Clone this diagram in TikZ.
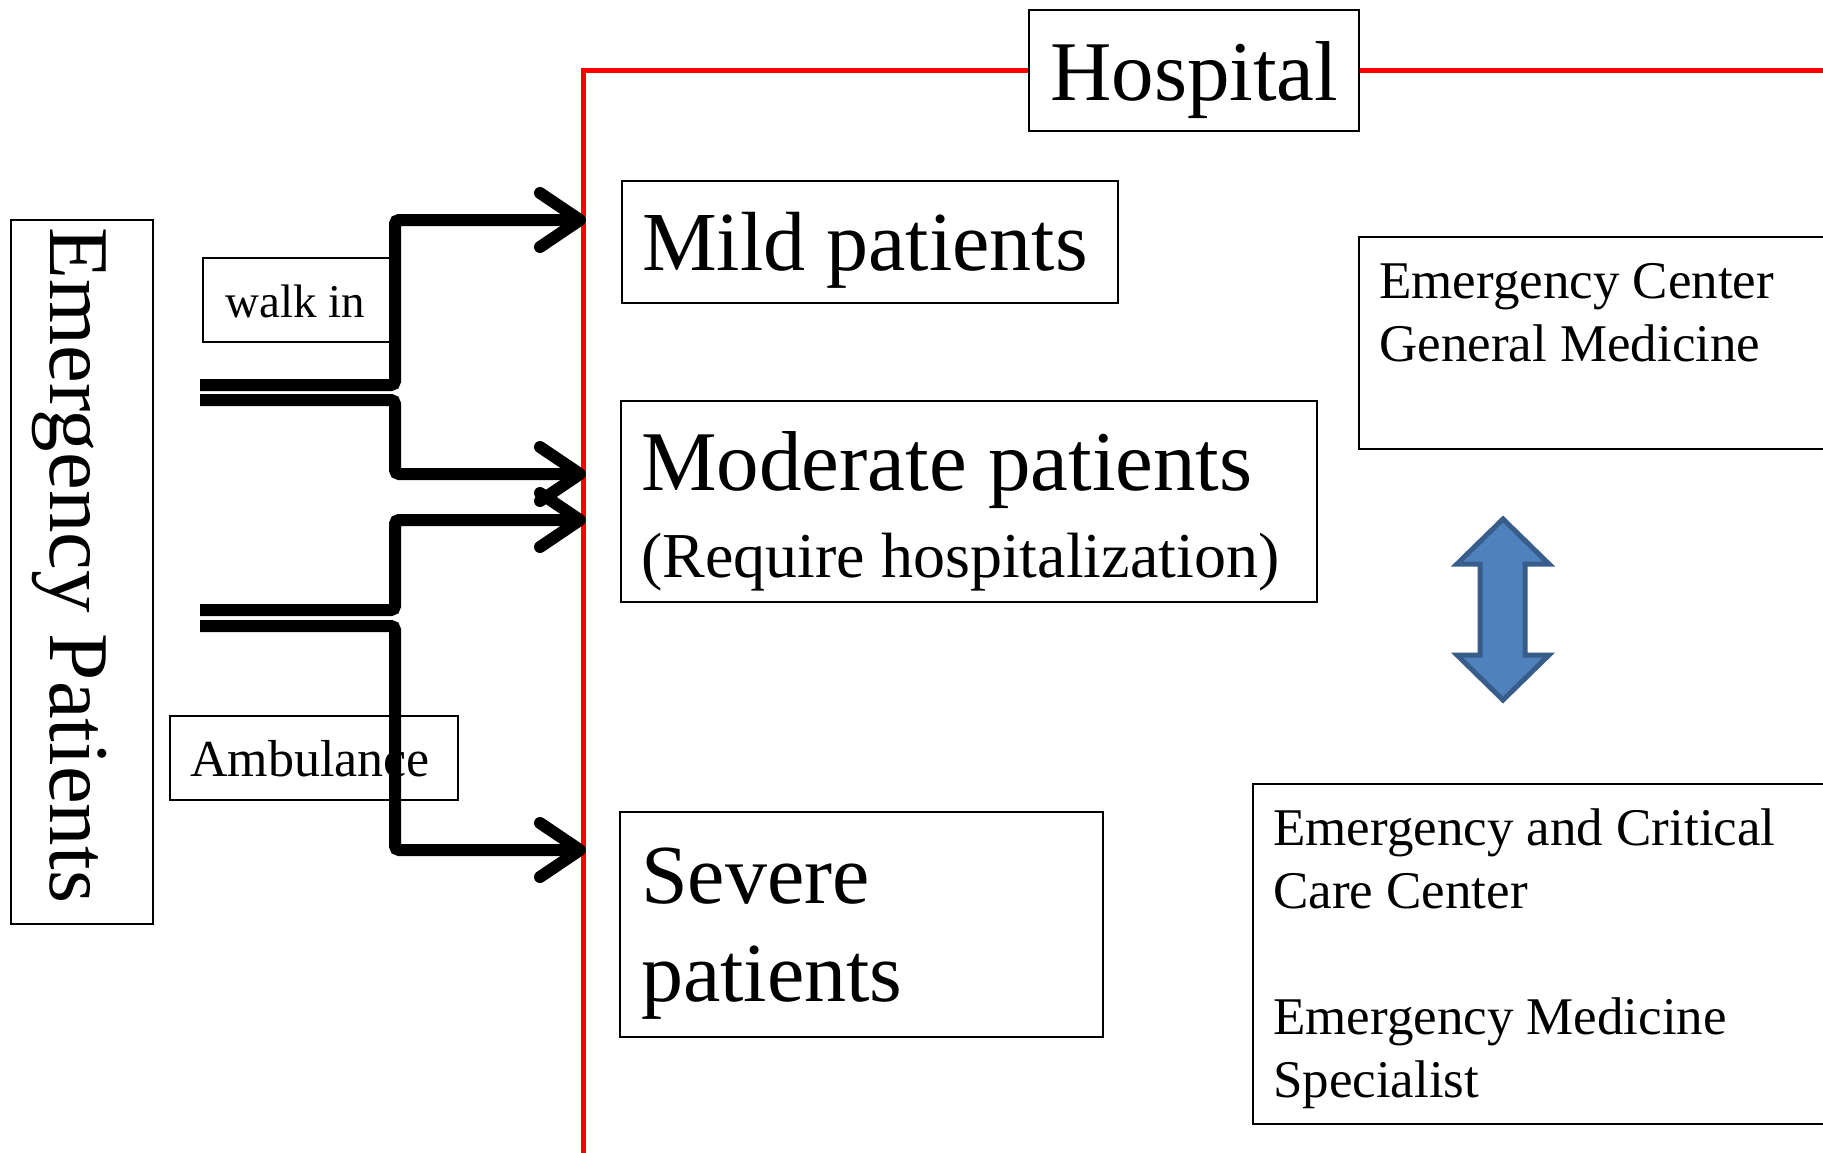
\documentclass[tikz,border=0pt]{standalone}
\usepackage{fontspec}
\setmainfont{Liberation Serif}
\usetikzlibrary{arrows.meta}

\definecolor{arrowfill}{HTML}{4F81BD}
\definecolor{arrowedge}{HTML}{385D8A}

\newcommand{\fs}[2]{\fontsize{#1}{#2}\selectfont}

\tikzset{
  frame/.style={draw=black, line width=2, fill=white, inner sep=0, anchor=north west},
  txt/.style={inner sep=0, anchor=base west},
  flow/.style={line width=12, rounded corners=4,
    -{Straight Barb[length=40pt,width=54pt,round]}},
  hospline/.style={draw=red, line width=5}
}

\begin{document}
\begin{tikzpicture}[x=1pt, y=-1pt]
\useasboundingbox (0,0) rectangle (1823,1152);
\clip (0,0) rectangle (1823,1152);

% hospital boundary
\draw[hospline] (583,1160) -- (583,70) -- (1830,70);

% boxes
\node[frame, minimum width=330, minimum height=121] (hospbox) at (1028,9) {};
\node[txt, font=\fs{85}{90}] (hosptxt) at (1050,100) {Hospital};

\node[frame, minimum width=142, minimum height=704] (epbox) at (10,219) {};
\node[txt, font=\fs{85}{90}, rotate=-90] (eptxt) at (50,227) {Emergency Patients};

\node[frame, minimum width=188, minimum height=84] (walkbox) at (202,257) {};
\node[txt, font=\fs{47}{52}] (walktxt) at (225,317) {walk in};

\node[frame, minimum width=288, minimum height=84] (ambbox) at (169,715) {};
\node[txt, font=\fs{52}{58}] (ambtxt) at (190,776) {Ambulance};

\node[frame, minimum width=496, minimum height=122] (mildbox) at (621,180) {};
\node[txt, font=\fs{84}{90}] (mildtxt) at (642,270) {Mild patients};

\node[frame, minimum width=696, minimum height=201] (modbox) at (620,400) {};
\node[txt, font=\fs{85}{90}] (modtxt) at (641,490) {Moderate patients};
\node[txt, font=\fs{64}{70}] (reqtxt) at (641,577) {(Require hospitalization)};

\node[frame, minimum width=483, minimum height=225] (sevbox) at (619,811) {};
\node[txt, font=\fs{84}{90}] (sevtxtA) at (641,903) {Severe};
\node[txt, font=\fs{84}{90}] (sevtxtB) at (641,1001) {patients};

\node[frame, minimum width=480, minimum height=212] (ecbox) at (1358,236) {};
\node[txt, font=\fs{53}{63}] (ectxtA) at (1379,298) {Emergency Center};
\node[txt, font=\fs{53}{63}] (ectxtB) at (1379,361) {General Medicine};

\node[frame, minimum width=590, minimum height=340] (eccbox) at (1252,783) {};
\node[txt, font=\fs{53}{63}] (ecctxtA) at (1273,845) {Emergency and Critical};
\node[txt, font=\fs{53}{63}] (ecctxtB) at (1273,908) {Care Center};
\node[txt, font=\fs{53}{63}] (ecctxtC) at (1273,1034) {Emergency Medicine};
\node[txt, font=\fs{53}{63}] (ecctxtD) at (1273,1097) {Specialist};

% two-way link between the two centres
\draw[fill=arrowfill, draw=arrowedge, line width=5, line join=miter]
  (1503,519) -- (1549,564) -- (1525,564) -- (1525,655) -- (1549,655)
  -- (1503,700) -- (1457,655) -- (1480,655) -- (1480,564) -- (1457,564) -- cycle;

% entry points on the hospital boundary
\coordinate (walkA) at (200,385);
\coordinate (walkB) at (200,400);
\coordinate (ambA)  at (200,610);
\coordinate (ambB)  at (200,626);
\coordinate (toMild)   at (586,220);
\coordinate (toModA)   at (586,474);
\coordinate (toModB)   at (586,520);
\coordinate (toSevere) at (586,850);

% routes of patients
\draw[flow] (walkA) -| (395,300) |- (toMild);
\draw[flow] (walkB) -| (395,440) |- (toModA);
\draw[flow] (ambA)  -| (395,560) |- (toModB);
\draw[flow] (ambB)  -| (395,700) |- (toSevere);
\end{tikzpicture}
\end{document}
